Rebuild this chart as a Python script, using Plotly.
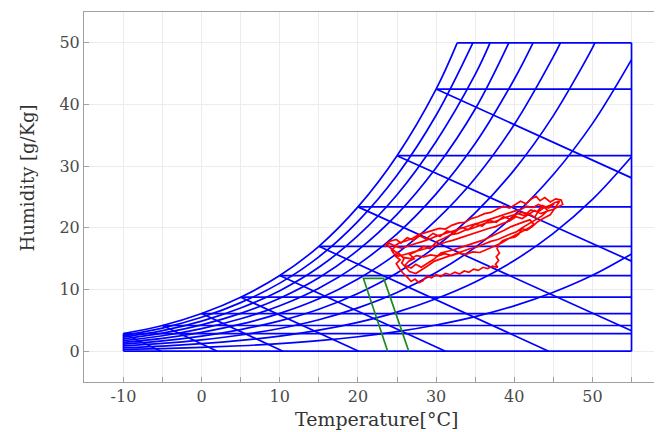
import plotly.graph_objects as go

# ---------------- data ----------------
temp_grid = [-10, -5, 0, 5, 10, 15, 20, 25, 30, 35, 40, 45, 50, 55]
sat_humidity = [2.86, 4.16, 6.1, 8.75, 12.26, 17.0, 23.4, 31.7, 42.5, 56.1, 73.5, 95.5, 123.0, 157.6]

rh_levels = [1.0, 0.9, 0.8, 0.7, 0.6, 0.5, 0.4, 0.3, 0.2, 0.1]
rh_top_temp = [32.7, 34.7, 36.9, 39.3, 42.4, 45.9, 50.3, None, None, None]  # where curve meets 50 g/kg

dew_temps = [-10, -5, 0, 5, 10, 15, 20, 25, 30]

wb_start_temp = [-10, -5, 0, 5, 10, 15, 20, 25, 30]
wb_end_temp = [-5.2, 2.0, 10.4, 20.1, 31.2, 44.4, 55, 55, 55]
wb_end_hum = [0, 0, 0, 0, 0, 0, 3.3, 14.6, 28.1]

t_min, t_max, w_top = -10, 55, 50

green_temp = [23.8, 20.7, 23.3, 26.5]
green_hum = [0, 11.8, 11.8, 0]

red_temp = [
    23.4, 24.0, 24.7, 25.4, 26.2, 27.0, 27.8, 28.6, 29.5, 30.4, 31.2, 32.0, 32.9, 33.7, 34.5, 35.3, 36.2, 37.0,
    37.8, 38.6, 39.4, 40.1, 40.8, 41.5, 42.2, 42.8, 43.3, 43.9, 44.6, 45.3, 46.0, 46.2, 45.6, 45.0,
    44.2, 43.4, 42.6, 41.8, 41.0, 40.2, 39.4, 38.5, 37.6, 36.7, 35.8, 34.9, 34.0, 33.1, 32.2, 31.3, 30.4, 29.5,
    28.6, 27.7, 26.8, 25.9, 25.2, 24.6, 24.3, 24.8,
    25.6, 26.5, 27.4, 28.3, 29.2, 30.1, 31.0, 31.9, 32.8, 33.7, 34.6, 35.5, 36.4, 37.3, 38.2, 39.1, 40.0, 40.9,
    41.6, 42.4, 43.1, 43.8, 44.3,
    43.5, 42.6, 41.8, 41.0, 40.6, 40.1, 39.3, 38.5, 38.0, 37.8, 38.1, 37.7, 38.0, 37.6, 37.9,
    37.2, 36.6, 36.0, 35.4, 34.8, 34.2, 33.6, 33.0, 32.4, 31.8, 31.2, 30.6, 30.0, 29.4, 28.8, 28.3, 27.8, 27.3,
    26.8, 26.3, 25.8, 25.3, 24.9, 25.4, 24.8, 25.1,
    25.8, 26.7, 27.5, 28.4, 29.3, 30.2, 31.1, 32.0, 32.9, 33.8, 34.7, 35.6, 36.5, 37.4, 38.3, 39.2, 40.1, 41.0,
    41.9, 42.5, 42.0, 41.3,
    40.5, 39.6, 38.7, 37.8, 36.9, 36.0, 35.1, 34.2, 33.3, 32.4, 31.5, 30.6, 29.7, 28.9, 28.1, 27.4, 26.8, 26.0,
    26.5, 27.2, 26.6, 27.5, 28.4, 29.2, 30.1, 31.0, 31.9, 32.8, 33.7, 34.6, 35.5, 36.4, 37.3, 38.2, 39.1, 40.0,
    40.9, 41.8, 42.6, 43.0, 43.7, 44.5, 45.2, 45.8,
    44.6, 43.8, 43.0, 42.3, 41.6, 40.9, 40.2, 39.5, 38.7, 37.9, 37.0, 36.1, 35.2, 34.3, 33.4, 32.5, 31.6, 30.7,
    29.8, 29.0, 28.2, 27.4, 26.6, 26.1, 25.6, 25.9, 25.4, 24.7, 24.1, 23.6,
    24.0, 24.9, 25.5, 26.3, 27.1, 27.9, 28.7, 29.6, 30.5, 31.4, 32.3, 33.2, 34.1, 35.0, 35.9, 36.8, 37.7, 38.6,
    39.5, 40.4, 41.3, 42.1, 42.9, 43.6, 44.4, 45.1,
]
red_hum = [
    16.9, 17.5, 17.1, 17.6, 17.9, 18.3, 18.9, 19.2, 19.6, 19.9, 19.8, 20.4, 20.8, 20.9, 21.5, 21.8, 22.3, 22.5,
    23.0, 23.5, 23.2, 23.8, 24.3, 23.9, 24.7, 25.1, 24.4, 24.9, 24.2, 24.7, 24.5, 23.8, 23.4, 23.0,
    22.7, 22.3, 22.8, 22.1, 21.5, 21.8, 21.1, 20.7, 20.2, 19.9, 19.5, 19.1, 18.7, 18.4, 18.0, 17.7, 17.3, 16.9,
    16.6, 16.3, 16.0, 15.7, 15.4, 15.8, 16.4, 17.0,
    16.7, 17.1, 17.4, 17.8, 18.2, 18.7, 19.0, 19.4, 19.8, 20.2, 20.5, 20.8, 21.2, 21.6, 21.9, 22.4, 22.7, 23.0,
    23.5, 23.3, 23.8, 23.4, 22.8,
    21.9, 21.2, 20.6, 20.0, 19.0, 18.5, 18.3, 17.9, 17.3, 16.6, 15.9, 15.3, 14.7, 14.1, 13.6,
    13.8, 13.4, 13.6, 13.1, 13.3, 12.8, 13.0, 12.5, 12.8, 12.4, 12.6, 12.1, 12.4, 11.9, 12.2, 11.4, 11.1, 11.7,
    11.3, 12.0, 12.6, 13.4, 14.2, 14.8, 15.4, 16.0,
    15.2, 15.0, 15.5, 15.3, 15.6, 15.4, 15.8, 15.5, 15.9, 15.7, 16.1, 16.0, 16.5, 16.9, 17.5, 18.2, 18.8, 19.4,
    20.0, 20.6, 21.3, 21.0,
    20.6, 20.2, 19.6, 19.0, 18.5, 18.0, 17.6, 17.2, 16.9, 16.5, 16.2, 15.9, 14.9, 14.2, 13.6, 14.1, 13.5, 13.9,
    14.6, 15.0, 15.7, 16.2, 17.0, 16.6, 17.8, 18.3, 18.9, 19.1, 19.6, 19.9, 20.4, 20.8, 20.9, 21.4, 21.8, 22.1,
    22.5, 22.3, 21.7, 22.5, 23.2, 23.6, 24.1, 24.3,
    22.1, 21.6, 21.0, 20.2, 19.6, 19.9, 19.3, 19.0, 18.6, 18.1, 17.8, 17.3, 16.9, 16.6, 16.2, 15.9, 15.4, 15.1,
    14.6, 13.9, 13.2, 12.6, 12.9, 13.6, 14.3, 15.0, 15.6, 16.2, 16.8, 17.3,
    17.8, 18.1, 17.5, 18.4, 18.0, 18.7, 18.2, 19.1, 18.6, 19.5, 19.2, 20.1, 19.7, 20.6, 20.3, 21.2, 20.9, 21.8,
    21.4, 22.3, 22.0, 22.9, 22.6, 23.6, 23.2, 23.9,
]

x_ticks = [-10, -5, 0, 5, 10, 15, 20, 25, 30, 35, 40, 45, 50, 55]
x_ticktext = ["-10", "", "0", "", "10", "", "20", "", "30", "", "40", "", "50", ""]
y_ticks = [0, 10, 20, 30, 40, 50]

# ---------------- figure ----------------
BLUE = "#0000ff"
LW = 1.7
fig = go.Figure()

def add_line(x, y, color=BLUE, width=LW, shape="linear"):
    fig.add_trace(go.Scatter(x=x, y=y, mode="lines", showlegend=False, hoverinfo="skip",
                             line=dict(color=color, width=width, shape=shape)))

# relative humidity curves
for lvl, t_end in zip(rh_levels, rh_top_temp):
    xs, ys = [], []
    for t, ws in zip(temp_grid, sat_humidity):
        if t_end is not None and t >= t_end:
            break
        xs.append(t)
        ys.append(lvl * ws)
    if t_end is not None:
        xs.append(t_end)
        ys.append(w_top)
    add_line(xs, ys, shape="spline")

# constant humidity (dew point) lines
for td in dew_temps:
    w = sat_humidity[temp_grid.index(td)]
    add_line([td, t_max], [w, w])
add_line([t_min, t_max], [0, 0])
add_line([rh_top_temp[0], t_max], [w_top, w_top])

# border verticals
add_line([t_max, t_max], [0, w_top])
add_line([t_min, t_min], [0, sat_humidity[0]])

# wet bulb lines
for ts, te, we in zip(wb_start_temp, wb_end_temp, wb_end_hum):
    ws = sat_humidity[temp_grid.index(ts)]
    add_line([ts, te], [ws, we])

# green process
add_line(green_temp, green_hum, color="#1e8a1e", width=1.7)

# red measurements
add_line(red_temp, red_hum, color="#ff0000", width=1.7)

AXIS_COL = "#a0a0a0"
# page body has an 8px margin, so the figure is 8px smaller and offsets are reduced by 8
fig.update_layout(
    width=654, height=424,
    margin=dict(l=76, r=0, t=4, b=50),
    plot_bgcolor="white", paper_bgcolor="white",
    font=dict(family="DejaVu Serif", color="#444444"),
    xaxis=dict(range=[-15.05, 58.9], tickvals=x_ticks, ticktext=x_ticktext,
               showgrid=True, gridcolor="#ececec", gridwidth=1, zeroline=False,
               showline=True, linecolor=AXIS_COL, linewidth=1, mirror=True,
               ticks="inside", ticklen=5, tickcolor=AXIS_COL,
               tickfont=dict(size=16, color="#4a4a4a", family="DejaVu Serif")),
    yaxis=dict(range=[-5, 55], tickvals=y_ticks,
               showgrid=True, gridcolor="#ececec", gridwidth=1, zeroline=False,
               showline=True, linecolor=AXIS_COL, linewidth=1, mirror=True,
               ticks="inside", ticklen=5, tickcolor=AXIS_COL,
               tickfont=dict(size=16, color="#4a4a4a", family="DejaVu Serif")),
    annotations=[
        dict(text="Temperature[°C]", xref="paper", yref="paper", x=0.506, y=-0.101,
             xanchor="center", yanchor="middle", showarrow=False,
             font=dict(size=19, color="#333333", family="DejaVu Serif")),
        dict(text="Humidity [g/Kg]", xref="paper", yref="paper", x=-0.098, y=0.551,
             xanchor="center", yanchor="middle", textangle=-90, showarrow=False,
             font=dict(size=18, color="#333333", family="DejaVu Serif")),
    ],
)

fig.write_html("out.html")
